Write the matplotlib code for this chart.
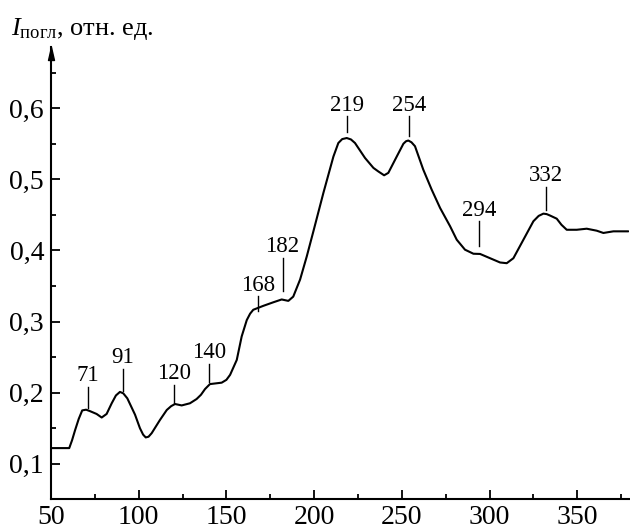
import matplotlib
matplotlib.use("Agg")
import matplotlib.pyplot as plt
from matplotlib.ticker import FixedLocator, MultipleLocator, FuncFormatter

plt.rcParams['font.family'] = ['Liberation Serif', 'DejaVu Serif']
plt.rcParams['mathtext.fontset'] = 'custom'
plt.rcParams['mathtext.rm'] = 'Liberation Serif'
plt.rcParams['mathtext.it'] = 'Liberation Serif:italic'

# Absorption spectrum: wavenumber vs. relative absorption intensity
wavenumber = [50, 60.4, 62.0, 63.7, 65.8, 67.8, 70.0, 72.2, 76.0, 78.9, 81.7,
              84.6, 87.0, 89.3, 91.2, 93.5, 97.9, 100.7, 102.5, 104.0, 105.6,
              107.4, 112.1, 116.0, 118.5, 120.7, 124.5, 129.2, 133.0, 135.5,
              137.8, 140.6, 147.3, 150.0, 152.1, 155.9, 158.7, 161.6, 163.5,
              165.3, 171.0, 176.7, 181.5, 185.3, 188.1, 192.0, 195.8, 199.6,
              205.3, 211.0, 213.8, 216.0, 218.6, 221.0, 223.3, 229.0, 233.8,
              236.6, 239.9, 242.3, 247.1, 250.9, 252.4, 253.7, 255.5, 257.5,
              262.2, 267.0, 271.8, 277.5, 281.3, 286.0, 290.8, 294.6, 300.3,
              306.0, 309.8, 313.6, 319.3, 325.0, 328.0, 330.7, 332.6, 334.5,
              338.3, 341.0, 344.0, 349.7, 355.4, 361.1, 364.9, 370.6, 379.1]
intensity = [0.122, 0.122, 0.133, 0.147, 0.163, 0.175, 0.176, 0.174, 0.170,
             0.165, 0.170, 0.185, 0.196, 0.201, 0.199, 0.192, 0.169, 0.150,
             0.141, 0.137, 0.138, 0.143, 0.1615, 0.1756, 0.181, 0.184, 0.182,
             0.185, 0.191, 0.197, 0.205, 0.212, 0.214, 0.218, 0.225, 0.246,
             0.279, 0.302, 0.311, 0.3165, 0.322, 0.327, 0.331, 0.329, 0.335,
             0.359, 0.3915, 0.427, 0.481, 0.532, 0.551, 0.5565, 0.558, 0.556,
             0.551, 0.530, 0.516, 0.511, 0.5056, 0.509, 0.532, 0.550, 0.5535,
             0.5545, 0.552, 0.5465, 0.5137, 0.4855, 0.4597, 0.434, 0.415, 0.401,
             0.3953, 0.395, 0.389, 0.383, 0.382, 0.389, 0.415, 0.441, 0.4485,
             0.4517, 0.451, 0.449, 0.4446, 0.436, 0.429, 0.429, 0.4305, 0.4277,
             0.4245, 0.4268, 0.4268]

# Marked band positions
peak_labels = [71, 91, 120, 140, 168, 182, 219, 254, 294, 332]

x_ticks = [50, 100, 150, 200, 250, 300, 350]
y_ticks = [0.1, 0.2, 0.3, 0.4, 0.5, 0.6]

# Vertical extent of each marker line (lower, upper), in intensity units
marker_spans = [(0.1789, 0.2085), (0.2028, 0.2334), (0.1851, 0.2108),
                (0.2155, 0.2404), (0.3151, 0.3352), (0.3423, 0.3893),
                (0.5662, 0.5887), (0.5615, 0.5887), (0.4056, 0.4408),
                (0.4573, 0.4893)]

fig = plt.figure(figsize=(6.3, 5.3), dpi=100)
ax = fig.add_axes([51 / 630, 30.7 / 530, 578 / 630, 452.3 / 530])

ax.plot(wavenumber, intensity, color='black', lw=1.5,
        solid_joinstyle='round', solid_capstyle='round')

for wn, (lo, hi) in zip(peak_labels, marker_spans):
    ax.plot([wn, wn], [lo, hi], color='black', lw=1.0)
    ax.annotate(str(wn), xy=(wn, hi), xytext=(0, 4), textcoords='offset points',
                ha='center', va='baseline', fontsize=16.5)

ax.set_xlim(50, 379.5)
ax.set_ylim(0.05, 0.686)

for side in ('top', 'right'):
    ax.spines[side].set_visible(False)
for side in ('left', 'bottom'):
    ax.spines[side].set_linewidth(1.5)

ax.xaxis.set_major_locator(FixedLocator(x_ticks))
ax.xaxis.set_minor_locator(MultipleLocator(25))
ax.yaxis.set_major_locator(FixedLocator(y_ticks))
ax.yaxis.set_minor_locator(MultipleLocator(0.05))
ax.yaxis.set_major_formatter(FuncFormatter(lambda v, p: f"{v:.1f}".replace('.', ',')))

ax.tick_params(which='major', direction='in', length=6.5, width=1.3,
               labelsize=20, pad=4)
ax.tick_params(which='minor', direction='in', length=3.3, width=1.3)
ax.tick_params(axis='y', which='major', pad=5)

# Arrow head at the top of the vertical axis
arrow = [(0, 0), (-0.23, -1), (0.23, -1), (0, 0)]
ax.plot([0], [1], marker=arrow, markersize=18.7, color='black',
        transform=ax.transAxes, clip_on=False)

fig.text(11 / 630, 1 - 35 / 530, r'$I_{\mathrm{погл}}$, отн. ед.',
         fontsize=19, ha='left', va='baseline')

fig.savefig('out.png', dpi=100)
